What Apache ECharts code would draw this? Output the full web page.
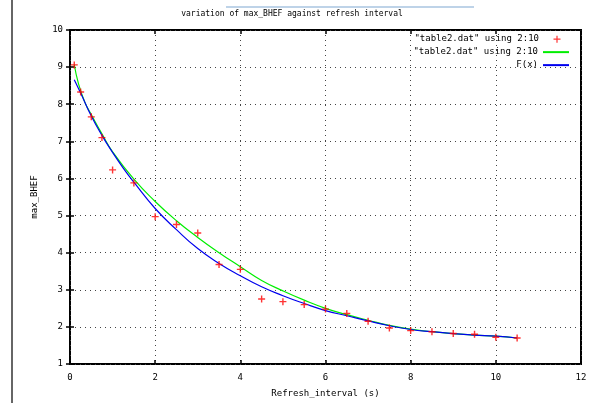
<!DOCTYPE html>
<html>
<head>
    <title>max_BHEF vs refresh interval</title>
    <script src="https://cdn.jsdelivr.net/npm/echarts@6.0.0/dist/echarts.min.js"></script>
    <style>
      body { margin: 0; background: #fff; }
    </style>
</head>
<body>
    <div id="chart" style="width: 592px; height: 403px;"></div>
    <script>
        // measured points (red +)
        var pointX = [0.1, 0.25, 0.5, 0.75, 1, 1.5, 2, 2.5, 3, 3.5, 4, 4.5, 5, 5.5, 6, 6.5, 7, 7.5, 8, 8.5, 9, 9.5, 10, 10.5];
        var pointY = [9.06, 8.33, 7.66, 7.1, 6.23, 5.88, 4.97, 4.76, 4.53, 3.68, 3.55, 2.75, 2.68, 2.6, 2.48, 2.36, 2.15, 1.97, 1.9, 1.87, 1.82, 1.8, 1.72, 1.7];

        // smoothed curve (green)
        var smoothX = [0.1, 0.2, 0.35, 0.5, 0.75, 1, 1.5, 2, 2.5, 3, 3.5, 4, 4.5, 5, 5.5, 6, 6.5, 7, 7.5, 8, 8.5, 9, 9.5, 10, 10.5];
        var smoothY = [9.07, 8.55, 8.05, 7.72, 7.2, 6.72, 5.98, 5.38, 4.86, 4.41, 4.0, 3.62, 3.25, 2.97, 2.72, 2.5, 2.33, 2.18, 2.04, 1.94, 1.87, 1.82, 1.78, 1.75, 1.7];

        // fitted function F(x) (blue)
        var fitX = [0.1, 0.25, 0.5, 0.75, 1, 1.25, 1.5, 2, 2.5, 3, 3.5, 4, 4.5, 5, 5.5, 6, 6.5, 7, 7.5, 8, 8.5, 9, 9.5, 10, 10.5];
        var fitY = [8.66, 8.3, 7.68, 7.16, 6.7, 6.28, 5.9, 5.19, 4.62, 4.11, 3.71, 3.38, 3.08, 2.84, 2.63, 2.44, 2.3, 2.16, 2.03, 1.93, 1.87, 1.82, 1.78, 1.75, 1.7];

        var xTicks = [0, 2, 4, 6, 8, 10, 12];
        var yTicks = [1, 2, 3, 4, 5, 6, 7, 8, 9, 10];

        var seriesNames = ['"table2.dat" using 2:10', '"table2.dat" using 2:10\u200b', 'F(x)'];

        function pairs(xs, ys) {
          return xs.map(function (x, i) { return [x, ys[i]]; });
        }

        var mono = 'DejaVu Sans Mono';
        var plusPath = 'path://M4,0H6V4H10V6H6V10H4V6H0V4H4Z';
        // same plus, padded with empty sub-paths so it sits centred in a wide key slot
        var plusKey = 'path://M0,5L0.01,5M26,5L25.99,5M12.4,1.5H13.6V4.4H16.5V5.6H13.6V8.5H12.4V5.6H9.5V4.4H12.4Z';

        // one legend per row so the rows sit tight like gnuplot's key
        function keyRow(item, top) {
          return {
            orient: 'vertical', right: 22, top: top, align: 'right', padding: 0,
            itemWidth: 26, itemHeight: 8,
            textStyle: { fontFamily: mono, fontSize: 9, color: '#000' },
            data: [item]
          };
        }

        var chart = echarts.init(document.getElementById('chart'));
        var option = {
          animation: false,
          backgroundColor: '#fff',
          title: {
            text: 'variation of max_BHEF against refresh interval',
            left: 287, top: 2, textAlign: 'center',
            textStyle: { fontFamily: mono, fontSize: 8, fontWeight: 'normal', color: '#000' }
          },
          legend: [
            keyRow({ name: seriesNames[0], icon: plusKey, itemStyle: { color: '#ff0000' } }, 31),
            keyRow({ name: seriesNames[1], itemStyle: { opacity: 0 } }, 44),
            keyRow({ name: seriesNames[2], itemStyle: { opacity: 0 } }, 57)
          ],
          grid: {
            left: 70, right: 11, top: 30, bottom: 39,
            outerBoundsMode: 'none', containLabel: false,
            show: true, borderColor: '#000', borderWidth: 2
          },
          xAxis: [{
            type: 'value', min: xTicks[0], max: xTicks[xTicks.length - 1], interval: 2,
            name: 'Refresh_interval (s)', nameLocation: 'middle', nameGap: 22, nameMoveOverlap: false,
            nameTextStyle: { fontFamily: mono, fontSize: 9, color: '#000' },
            axisLine: { show: false },
            axisTick: { inside: true, length: 4, lineStyle: { color: '#000', width: 1.5 } },
            axisLabel: { fontFamily: mono, fontSize: 9, color: '#000', margin: 6 },
            splitLine: { show: true, lineStyle: { color: '#444', type: [1, 4], width: 1 } }
          }, {
            type: 'value', position: 'top', min: 0, max: 12, interval: 2,
            axisLine: { show: false }, axisLabel: { show: false }, splitLine: { show: false },
            axisTick: { inside: true, length: 4, lineStyle: { color: '#000', width: 1.5 } }
          }],
          yAxis: [{
            type: 'value', min: yTicks[0], max: yTicks[yTicks.length - 1], interval: 1,
            name: 'max_BHEF', nameLocation: 'middle', nameGap: 27, nameRotate: 90, nameMoveOverlap: false,
            nameTextStyle: { fontFamily: mono, fontSize: 9, color: '#000' },
            axisLine: { show: false },
            axisTick: { inside: true, length: 4, lineStyle: { color: '#000', width: 1.5 } },
            axisLabel: { fontFamily: mono, fontSize: 9, color: '#000', margin: 7 },
            splitLine: { show: true, lineStyle: { color: '#444', type: [1, 4], width: 1 } }
          }, {
            type: 'value', position: 'right', min: 1, max: 10, interval: 1,
            axisLine: { show: false }, axisLabel: { show: false }, splitLine: { show: false },
            axisTick: { inside: true, length: 4, lineStyle: { color: '#000', width: 1.5 } }
          }],
          graphic: [
            { type: 'line', shape: { x1: 12, y1: 0, x2: 12, y2: 403 }, style: { stroke: '#333', lineWidth: 1.5 } },
            { type: 'line', shape: { x1: 226, y1: 7, x2: 474, y2: 7 }, style: { stroke: '#a8c4e0', lineWidth: 1.5 } }
          ],
          series: [
            {
              name: seriesNames[0], type: 'scatter', data: pairs(pointX, pointY),
              symbol: plusPath, symbolSize: 7, itemStyle: { color: '#ff0000' }, z: 5
            },
            {
              name: seriesNames[1], type: 'line', data: pairs(smoothX, smoothY), smooth: true,
              showSymbol: false, symbol: 'none', lineStyle: { color: '#00ee00', width: 1.2 },
              itemStyle: { color: '#00ee00' }, z: 3
            },
            {
              name: seriesNames[2], type: 'line', data: pairs(fitX, fitY), smooth: true,
              showSymbol: false, symbol: 'none', lineStyle: { color: '#0000ee', width: 1.2 },
              itemStyle: { color: '#0000ee' }, z: 4
            }
          ]
        };
        chart.setOption(option);
    </script>
</body>
</html>
